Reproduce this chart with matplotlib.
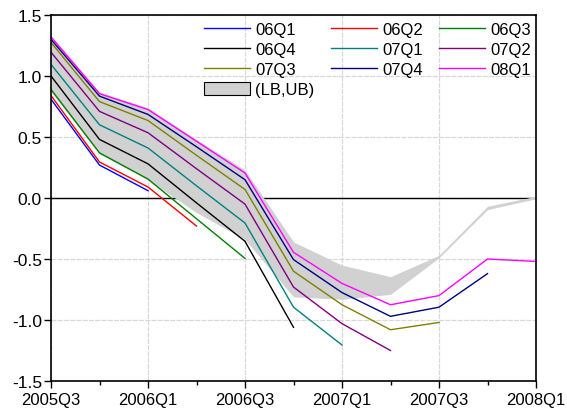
import numpy as np
import matplotlib
matplotlib.use("Agg")
import matplotlib.pyplot as plt
from matplotlib.patches import Patch
from matplotlib.ticker import MultipleLocator, FormatStrFormatter

plt.rcParams["font.family"] = ["Liberation Sans", "DejaVu Sans"]
plt.rcParams["axes.unicode_minus"] = False

quarters = ["2005Q3", "2005Q4", "2006Q1", "2006Q2", "2006Q3", "2006Q4",
            "2007Q1", "2007Q2", "2007Q3", "2007Q4", "2008Q1"]

# forecast vintages, each starting at 2005Q3
s06Q1 = [0.81, 0.27, 0.06]
s06Q2 = [0.84, 0.295, 0.09, -0.23]
s06Q3 = [0.89, 0.37, 0.155, -0.17, -0.495]
s06Q4 = [1.00, 0.48, 0.28, -0.04, -0.355, -1.06]
s07Q1 = [1.095, 0.60, 0.41, 0.10, -0.205, -0.895, -1.205]
s07Q2 = [1.195, 0.71, 0.535, 0.24, -0.05, -0.73, -1.03, -1.25]
s07Q3 = [1.275, 0.79, 0.635, 0.35, 0.07, -0.60, -0.875, -1.08, -1.02]
s07Q4 = [1.30, 0.835, 0.685, 0.42, 0.15, -0.505, -0.775, -0.97, -0.895, -0.62]
s08Q1 = [1.32, 0.855, 0.725, 0.465, 0.205, -0.445, -0.70, -0.875, -0.80, -0.50, -0.52]

# (LB, UB) band
lb = [0.87, 0.36, 0.15, -0.12, -0.34, -0.81, -0.83, -0.79, -0.49, -0.095, -0.006]
ub = [1.33, 0.87, 0.74, 0.48, 0.23, -0.36, -0.55, -0.645, -0.47, -0.068, 0.014]

series = [
    ("06Q1", s06Q1, "#0000ff"),
    ("06Q2", s06Q2, "#ff0000"),
    ("06Q3", s06Q3, "#008000"),
    ("06Q4", s06Q4, "#000000"),
    ("07Q1", s07Q1, "#008080"),
    ("07Q2", s07Q2, "#800080"),
    ("07Q3", s07Q3, "#808000"),
    ("07Q4", s07Q4, "#000080"),
    ("08Q1", s08Q1, "#ff00ff"),
]

fig = plt.figure(figsize=(5.67, 4.14), dpi=100)
ax = fig.add_axes([51 / 567, 1 - 382 / 414, 485 / 567, 366 / 414])

x = np.arange(len(quarters))
ax.axhline(0, color="black", lw=1.0, zorder=1)
ax.fill_between(x, lb, ub, color="#d1d1d1", lw=0, zorder=1.5)

handles = {}
for name, vals, col in series:
    (h,) = ax.plot(x[: len(vals)], vals, color=col, lw=1.0, label=name, zorder=2)
    handles[name] = h
band = Patch(facecolor="#d1d1d1", edgecolor="black", lw=0.8)

ax.set_xlim(0, 10)
ax.set_ylim(-1.5, 1.5)
ax.set_xticks(x[::2])
ax.set_xticklabels(quarters[::2])
ax.set_xticks(x[1::2], minor=True)
ax.yaxis.set_major_locator(MultipleLocator(0.5))
ax.yaxis.set_major_formatter(FormatStrFormatter("%.1f"))
ax.tick_params(axis="both", which="major", direction="out", length=5,
               width=1, labelsize=12, colors="black")
ax.tick_params(axis="x", which="minor", direction="out", length=3, width=1)
ax.tick_params(axis="x", pad=3)
ax.tick_params(axis="y", pad=1.5, labelsize=12.5)

ax.set_axisbelow(True)
ax.grid(True, which="major", color="#d8d8d8", lw=0.9, linestyle=(0, (4, 1)))
for sp in ax.spines.values():
    sp.set_linewidth(1.2)
    sp.set_color("black")

order = ["06Q1", "06Q4", "07Q3", None, "06Q2", "07Q1", "07Q4", "06Q3", "07Q2", "08Q1"]
hs = [handles[k] if k else band for k in order]
ls = [k if k else "(LB,UB)" for k in order]
ax.legend(hs, ls, ncol=3, loc="upper left", bbox_to_anchor=(0.315, 0.982),
          frameon=False, fontsize=12, borderpad=0, borderaxespad=0,
          handlelength=2.8, handleheight=0.9, handletextpad=0.3,
          columnspacing=0.95, labelspacing=0.26)

fig.savefig("out.png", dpi=100)
